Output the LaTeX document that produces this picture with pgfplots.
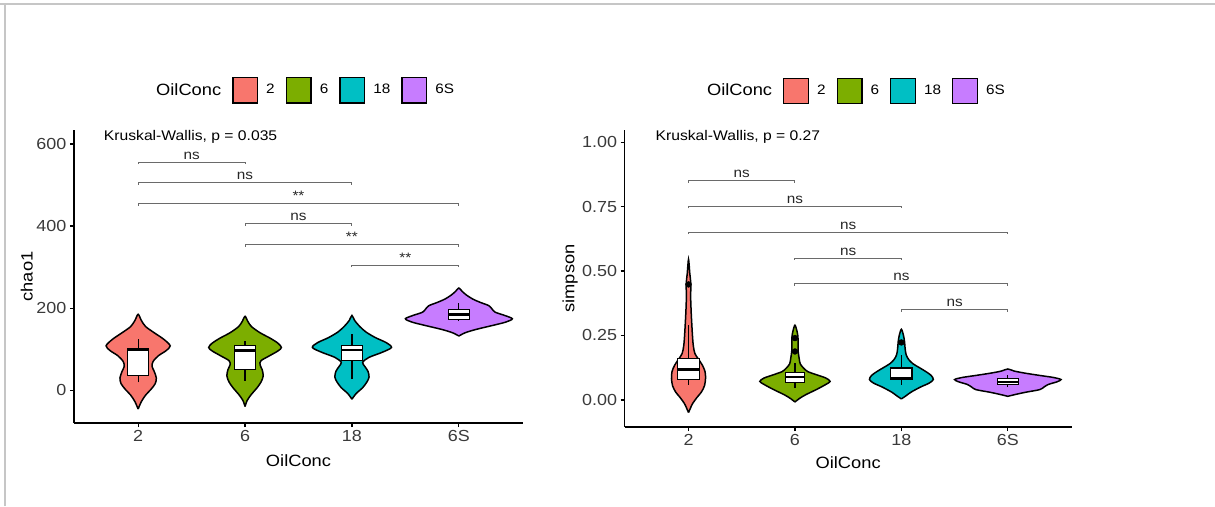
\documentclass[border=0pt]{standalone}
\usepackage{fontspec}
\setmainfont{Liberation Sans}[FakeStretch=1.12]
\usepackage{pgfplots}
\pgfplotsset{compat=1.18}
\definecolor{cR}{HTML}{F8766D}
\definecolor{cG}{HTML}{7CAE00}
\definecolor{cT}{HTML}{00BFC4}
\definecolor{cP}{HTML}{C77CFF}
\definecolor{tickgray}{HTML}{3A3A3A}
\definecolor{brgray}{HTML}{6A6A6A}
\pgfplotsset{
  gg/.style={
    scale only axis, clip=false,
    axis x line*=bottom, axis y line*=left,
    every outer x axis line/.append style={-},
    every outer y axis line/.append style={-},
    every inner x axis line/.append style={-},
    every inner y axis line/.append style={-},
    axis line style={line width=0.85pt, black, -},
    xmin=0.4, xmax=4.6,
    xtick={1,2,3,4}, xticklabels={2,6,18,6S},
    tick align=outside, major tick length=2.4pt,
    tick style={line width=0.7pt, black},
    tick label style={font=\fontsize{9.6}{11}\selectfont, text=tickgray, inner sep=2pt},
    /pgf/number format/assume math mode=true,
    label style={font=\fontsize{9.8}{11}\selectfont},
    legend columns=-1,
    legend style={draw=none, fill=none, anchor=west, inner sep=0pt, outer sep=0pt,
      font=\fontsize{8.2}{9.5}\selectfont,
      nodes={inner xsep=0pt, inner ysep=1pt},
      /tikz/every odd column/.append style={column sep=4.8pt},
      /tikz/every even column/.append style={column sep=6.6pt}},
    legend image code/.code={\draw[#1] (0pt,-7.6pt) rectangle (14.8pt,7.6pt);},
    viol/.style={draw=black, line width=0.9pt, smooth, tension=0.5, forget plot},
    wh/.style={black, line width=0.7pt, forget plot},
    bx/.style={fill=white, draw=black, line width=0.7pt, forget plot},
    md/.style={black, line width=1.6pt, forget plot},
    br/.style={brgray, line width=0.6pt, forget plot},
  }
}
\begin{document}
\begin{tikzpicture}
\useasboundingbox (0,0) rectangle (729pt,303.6pt);
\draw[gray!45, line width=1pt] (0,301.2pt) -- (729pt,301.2pt);
\draw[gray!45, line width=1pt] (3pt,0) -- (3pt,301.2pt);

% ---------------- left panel: chao1 ----------------
\begin{axis}[gg,
  at={(44.4pt,49.8pt)}, anchor=south west,
  width=269.4pt, height=175.8pt,
  ymin=-80, ymax=634,
  ytick={0,200,400,600},
  ylabel={chao1},
  ylabel style={at={(axis description cs:-0.105,0.5)}, anchor=center},
  xlabel={OilConc},
  xlabel style={at={(axis description cs:0.5,-0.13)}, anchor=center},
  legend style={at={(0.1652,1.135)}},
]
\addlegendimage{empty legend}\addlegendentry{\fontsize{9.8}{11}\selectfont OilConc\hspace{-1.8pt}}
\addlegendimage{fill=cR, draw=black, line width=0.8pt}\addlegendentry{2}
\addlegendimage{fill=cG, draw=black, line width=0.8pt}\addlegendentry{6}
\addlegendimage{fill=cT, draw=black, line width=0.8pt}\addlegendentry{18}
\addlegendimage{fill=cP, draw=black, line width=0.8pt}\addlegendentry{6S}

% violins
\addplot[viol, fill=cR] coordinates {(1,-46)(1.03,-28)(1.07,-12)(1.12,2)(1.16,16)(1.17,30)(1.15,46)(1.13,58)(1.14,70)(1.19,84)(1.26,96)(1.30,108)(1.24,124)(1.15,140)(1.07,155)(1.03,170)(1,185)(0.97,170)(0.93,155)(0.85,140)(0.76,124)(0.70,108)(0.74,96)(0.81,84)(0.86,70)(0.87,58)(0.85,46)(0.83,30)(0.84,16)(0.88,2)(0.93,-12)(0.97,-28)(1,-46)};
\addplot[viol, fill=cG] coordinates {(2,-40)(2.02,-25)(2.06,-10)(2.11,5)(2.15,20)(2.17,35)(2.16,50)(2.14,62)(2.15,72)(2.23,84)(2.31,96)(2.34,104)(2.31,114)(2.24,126)(2.14,140)(2.06,155)(2.025,168)(2,180)(1.975,168)(1.94,155)(1.86,140)(1.76,126)(1.69,114)(1.66,104)(1.69,96)(1.77,84)(1.85,72)(1.86,62)(1.84,50)(1.83,35)(1.85,20)(1.89,5)(1.94,-10)(1.98,-25)(2,-40)};
\addplot[viol, fill=cT] coordinates {(3,-22)(3.04,-8)(3.10,6)(3.14,20)(3.16,32)(3.15,46)(3.12,58)(3.10,68)(3.16,80)(3.28,92)(3.37,104)(3.32,116)(3.22,128)(3.13,142)(3.07,156)(3.025,170)(3,182)(2.975,170)(2.93,156)(2.87,142)(2.78,128)(2.68,116)(2.63,104)(2.72,92)(2.84,80)(2.90,68)(2.88,58)(2.85,46)(2.84,32)(2.86,20)(2.90,6)(2.96,-8)(3,-22)};
\addplot[viol, fill=cP] coordinates {(4,132)(4.06,140)(4.16,148)(4.32,158)(4.44,166)(4.50,174)(4.43,182)(4.34,190)(4.31,198)(4.28,206)(4.20,214)(4.13,222)(4.07,232)(4.03,241)(4,249)(3.97,241)(3.93,232)(3.87,222)(3.80,214)(3.72,206)(3.69,198)(3.66,190)(3.57,182)(3.50,174)(3.56,166)(3.68,158)(3.84,148)(3.94,140)(4,132)};

% whiskers
\addplot[wh] coordinates {(1,19)(1,36)};   \addplot[wh] coordinates {(1,101)(1,124)};
\addplot[wh] coordinates {(2,23)(2,51)};   \addplot[wh] coordinates {(2,108)(2,120)};
\addplot[wh] coordinates {(3,27)(3,73)};   \addplot[wh] coordinates {(3,109)(3,136)};
\addplot[wh] coordinates {(4,168)(4,173)}; \addplot[wh] coordinates {(4,197)(4,213)};
% boxes
\addplot[bx] coordinates {(0.9,36)(1.1,36)(1.1,101)(0.9,101)} -- cycle;
\addplot[bx] coordinates {(1.9,51)(2.1,51)(2.1,108)(1.9,108)} -- cycle;
\addplot[bx] coordinates {(2.9,73)(3.1,73)(3.1,109)(2.9,109)} -- cycle;
\addplot[bx] coordinates {(3.9,173)(4.1,173)(4.1,197)(3.9,197)} -- cycle;
% medians
\addplot[md] coordinates {(0.9,98)(1.1,98)};
\addplot[md] coordinates {(1.9,96)(2.1,96)};
\addplot[md] coordinates {(2.9,98)(3.1,98)};
\addplot[md] coordinates {(3.9,185)(4.1,185)};

% brackets
\addplot[br] coordinates {(1,550)(1,555)(2,555)(2,550)};
\addplot[br] coordinates {(1,500)(1,505)(3,505)(3,500)};
\addplot[br] coordinates {(1,450)(1,455)(4,455)(4,450)};
\addplot[br] coordinates {(2,400)(2,405)(3,405)(3,400)};
\addplot[br] coordinates {(2,350)(2,355)(4,355)(4,350)};
\addplot[br] coordinates {(3,300)(3,305)(4,305)(4,300)};
\begin{scope}[every node/.style={anchor=south, inner sep=1.6pt, font=\fontsize{8.2}{9}\selectfont, text=black!85}]
\node at (axis cs:1.5,555) {ns};
\node at (axis cs:2,505) {ns};
\node at (axis cs:2.5,455) {**};
\node at (axis cs:2.5,405) {ns};
\node at (axis cs:3,355) {**};
\node at (axis cs:3.5,305) {**};
\end{scope}
\node[anchor=west, inner sep=0pt, font=\fontsize{8.4}{10}\selectfont] at (axis cs:0.677,617) {Kruskal-Wallis, p = 0.035};
\end{axis}

% ---------------- right panel: simpson ----------------
\begin{axis}[gg,
  at={(374.8pt,47.4pt)}, anchor=south west,
  width=268.2pt, height=178.2pt,
  ymin=-0.105, ymax=1.047,
  ytick={0,0.25,0.5,0.75,1}, yticklabels={0.00,0.25,0.50,0.75,1.00},
  ylabel={simpson},
  ylabel style={at={(axis description cs:-0.122,0.5)}, anchor=center},
  xlabel={OilConc},
  xlabel style={at={(axis description cs:0.5,-0.121)}, anchor=center},
  legend style={at={(0.1664,1.131)}},
]
\addlegendimage{empty legend}\addlegendentry{\fontsize{9.8}{11}\selectfont OilConc\hspace{-1.8pt}}
\addlegendimage{fill=cR, draw=black, line width=0.8pt}\addlegendentry{2}
\addlegendimage{fill=cG, draw=black, line width=0.8pt}\addlegendentry{6}
\addlegendimage{fill=cT, draw=black, line width=0.8pt}\addlegendentry{18}
\addlegendimage{fill=cP, draw=black, line width=0.8pt}\addlegendentry{6S}

\addplot[viol, fill=cR] coordinates {(1,-0.049)(1.02,-0.03)(1.04,-0.013)(1.08,0.01)(1.12,0.03)(1.15,0.055)(1.16,0.084)(1.155,0.11)(1.13,0.135)(1.09,0.16)(1.06,0.18)(1.045,0.21)(1.037,0.25)(1.03,0.30)(1.025,0.34)(1.02,0.40)(1.022,0.45)(1.012,0.49)(1,0.545)(0.988,0.49)(0.978,0.45)(0.98,0.40)(0.975,0.34)(0.97,0.30)(0.963,0.25)(0.955,0.21)(0.94,0.18)(0.91,0.16)(0.87,0.135)(0.845,0.11)(0.84,0.084)(0.85,0.055)(0.88,0.03)(0.92,0.01)(0.96,-0.013)(0.98,-0.03)(1,-0.049)};
\addplot[viol, fill=cG] coordinates {(2,-0.008)(2.04,0.005)(2.10,0.02)(2.20,0.04)(2.29,0.06)(2.33,0.072)(2.29,0.085)(2.20,0.098)(2.12,0.11)(2.08,0.124)(2.05,0.14)(2.04,0.16)(2.03,0.19)(2.03,0.22)(2.028,0.245)(2.02,0.265)(2,0.29)(1.98,0.265)(1.972,0.245)(1.97,0.22)(1.97,0.19)(1.96,0.16)(1.95,0.14)(1.92,0.124)(1.88,0.11)(1.80,0.098)(1.71,0.085)(1.67,0.072)(1.71,0.06)(1.80,0.04)(1.90,0.02)(1.96,0.005)(2,-0.008)};
\addplot[viol, fill=cT] coordinates {(3,0.004)(3.04,0.015)(3.09,0.03)(3.18,0.05)(3.26,0.065)(3.30,0.079)(3.28,0.095)(3.23,0.11)(3.17,0.125)(3.11,0.14)(3.07,0.156)(3.045,0.175)(3.035,0.2)(3.03,0.225)(3.02,0.25)(3,0.274)(2.98,0.25)(2.97,0.225)(2.965,0.2)(2.955,0.175)(2.93,0.156)(2.89,0.14)(2.83,0.125)(2.77,0.11)(2.72,0.095)(2.70,0.079)(2.74,0.065)(2.82,0.05)(2.91,0.03)(2.96,0.015)(3,0.004)};
\addplot[viol, fill=cP] coordinates {(4,0.014)(4.08,0.022)(4.17,0.03)(4.30,0.04)(4.34,0.05)(4.38,0.06)(4.46,0.07)(4.50,0.079)(4.43,0.087)(4.30,0.095)(4.16,0.104)(4.06,0.112)(4,0.12)(3.94,0.112)(3.84,0.104)(3.70,0.095)(3.57,0.087)(3.50,0.079)(3.54,0.07)(3.62,0.06)(3.66,0.05)(3.70,0.04)(3.83,0.03)(3.92,0.022)(4,0.014)};

\addplot[wh] coordinates {(1,0.058)(1,0.078)};  \addplot[wh] coordinates {(1,0.161)(1,0.29)};
\addplot[wh] coordinates {(2,0.046)(2,0.068)};  \addplot[wh] coordinates {(2,0.108)(2,0.143)};
\addplot[wh] coordinates {(3,0.059)(3,0.079)};  \addplot[wh] coordinates {(3,0.124)(3,0.175)};
\addplot[wh] coordinates {(4,0.05)(4,0.059)};   \addplot[wh] coordinates {(4,0.082)(4,0.095)};
\addplot[bx] coordinates {(0.9,0.078)(1.1,0.078)(1.1,0.161)(0.9,0.161)} -- cycle;
\addplot[bx] coordinates {(1.91,0.068)(2.09,0.068)(2.09,0.108)(1.91,0.108)} -- cycle;
\addplot[bx] coordinates {(2.9,0.079)(3.1,0.079)(3.1,0.124)(2.9,0.124)} -- cycle;
\addplot[bx] coordinates {(3.9,0.059)(4.1,0.059)(4.1,0.082)(3.9,0.082)} -- cycle;
\addplot[md] coordinates {(0.9,0.118)(1.1,0.118)};
\addplot[md] coordinates {(1.91,0.089)(2.09,0.089)};
\addplot[md] coordinates {(2.9,0.085)(3.1,0.085)};
\addplot[md] coordinates {(3.9,0.07)(4.1,0.07)};
% outliers
\addplot[only marks, mark=*, mark size=1.7pt, black, forget plot] coordinates {(1,0.448)(2,0.188)(2,0.24)(3,0.223)};

\addplot[br] coordinates {(1,0.843)(1,0.85)(2,0.85)(2,0.843)};
\addplot[br] coordinates {(1,0.743)(1,0.75)(3,0.75)(3,0.743)};
\addplot[br] coordinates {(1,0.643)(1,0.65)(4,0.65)(4,0.643)};
\addplot[br] coordinates {(2,0.543)(2,0.55)(3,0.55)(3,0.543)};
\addplot[br] coordinates {(2,0.443)(2,0.45)(4,0.45)(4,0.443)};
\addplot[br] coordinates {(3,0.343)(3,0.35)(4,0.35)(4,0.343)};
\begin{scope}[every node/.style={anchor=south, inner sep=1.6pt, font=\fontsize{8.2}{9}\selectfont, text=black!85}]
\node at (axis cs:1.5,0.85) {ns};
\node at (axis cs:2,0.75) {ns};
\node at (axis cs:2.5,0.65) {ns};
\node at (axis cs:2.5,0.55) {ns};
\node at (axis cs:3,0.45) {ns};
\node at (axis cs:3.5,0.35) {ns};
\end{scope}
\node[anchor=west, inner sep=0pt, font=\fontsize{8.4}{10}\selectfont] at (axis cs:0.688,1.02) {Kruskal-Wallis, p = 0.27};
\end{axis}
\end{tikzpicture}
\end{document}
